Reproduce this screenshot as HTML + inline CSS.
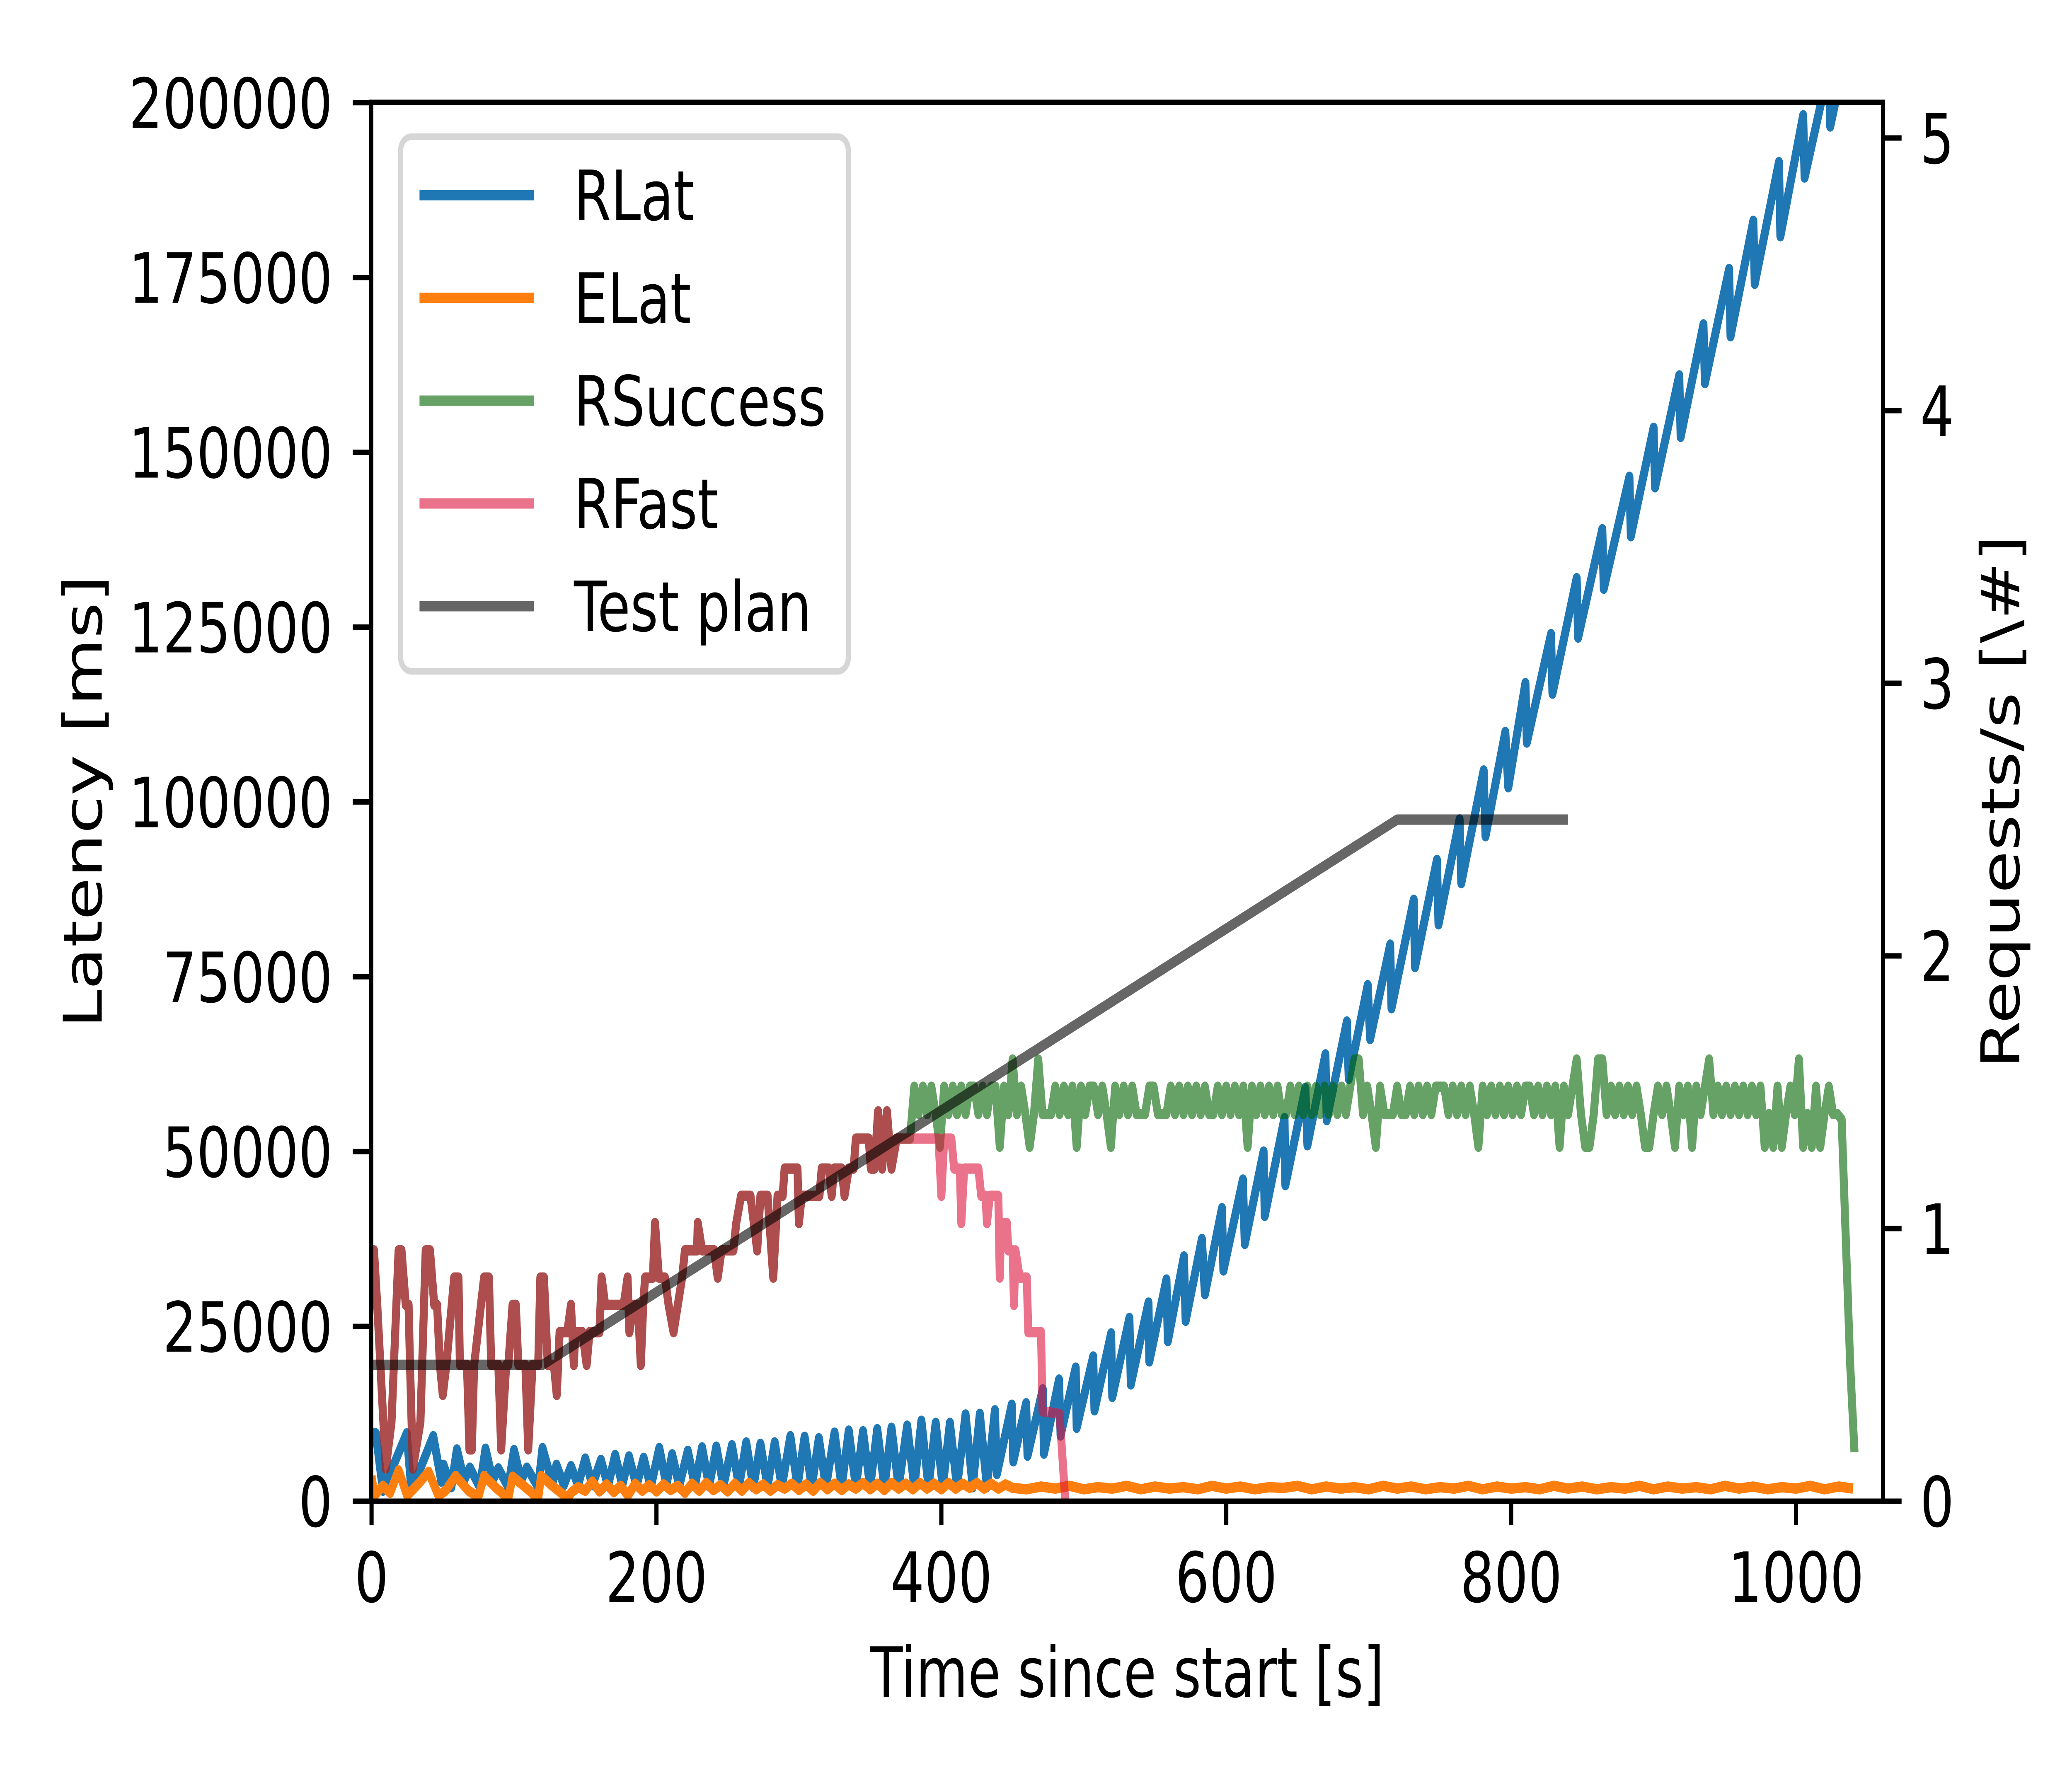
<!DOCTYPE html>
<html><head><meta charset="utf-8"><title>Latency chart</title>
<style>html,body{margin:0;padding:0;background:#fff;overflow:hidden;width:100vw;height:100vh}svg{display:block;width:100vw;height:100vh}text{font-family:"DejaVu Sans","Liberation Sans",sans-serif;fill:#000}</style>
</head><body>
<svg id="chart" xmlns="http://www.w3.org/2000/svg" viewBox="0 0 6480 4320" preserveAspectRatio="none">
<rect x="0" y="0" width="6480" height="4320" fill="#fff"/>
<defs><clipPath id="plotclip"><rect x="1161" y="247" width="4728" height="3376"/></clipPath></defs>
<g id="series" clip-path="url(#plotclip)"></g>
<g id="axes"></g>
<g id="legend"></g>
</svg>
<script>
// ---- data ----
const xTicks = [0, 200, 400, 600, 800, 1000];
const yLeftTicks = [0, 25000, 50000, 75000, 100000, 125000, 150000, 175000, 200000];
const yRightTicks = [0, 1, 2, 3, 4, 5];

// RLat (thousand ms)
const rlatT = [0,3,8,24.7,28,43.3,49,50.5,56,59.9,65,69,76,80,85,89,96,100,105,109,117,120,127,129.8,135,
140,145,150,155,161,166,171,176,180.7,186,191,196,202,207,211,216,222,227,232,237,242,247,253,258,263,268,273,278,283,288,294,299,304,309,314,319,325,330,335,340,345,350,355,360,365,370,376,381,386,391,396,401,406,411,417,422,427,432,
437.6,439,449.4,450.5,459.5,460.5,471.2,472,482.6,483.7,494.3,495,506.6,507.5,519.2,520,532,533,545.4,546,558,559,570.3,571.5,582.9,585,597,598,611.7,613,626.2,627,640.9,641.5,655.5,657,669.6,670.5,684.7,686,699.3,701,715.1,716,731.6,732.5,747.9,749,763.8,765,780.7,782,795.9,798,810,811,828,829,846,847,864,865,883,884,900,901,918,919,935,936,953,954,970,971,988,989,1005,1006,1023,1024,1040];
const rlatK = [9.7,9.7,1.5,9.7,1.5,9.3,2.8,5.2,2.0,7.4,3.0,4.8,2.0,7.5,3.0,4.7,2.0,7.3,3.0,4.8,2.0,7.6,2.5,5.2,2.3,
5.0,2.3,6.1,2.3,5.9,2.2,6.6,2.3,6.4,2.2,6.2,2.0,7.6,2.3,6.7,2.2,7.2,2.2,7.7,2.1,7.8,2.2,8.0,2.1,8.4,2.0,8.2,2.1,8.4,2.0,9.3,2.1,9.2,2.0,9.0,2.0,9.8,2.0,10.1,2.0,10.0,2.0,10.3,2.0,10.5,2.0,10.8,2.0,11.5,2.0,11.2,2.0,11.2,2.0,12.4,2.0,12.5,2.0,
13.0,3.9,13.8,5.7,14.0,6.5,16.0,6.8,17.4,9.4,19.1,10.5,20.7,13.0,24.0,14.9,26.2,16.7,28.4,20.0,31.7,22.9,35.0,25.8,37.5,29.6,41.9,33.0,46.0,36.8,50.0,40.8,54.8,45.2,59.1,50.9,63.9,54.5,68.6,60.4,73.8,66.1,79.6,70.5,86.0,76.4,91.7,82.5,97.5,88.4,104.5,95.1,110,102.1,117,108.5,124,115.5,132,123.5,139,130.5,146.5,138,153.5,145,161,152.2,168.3,159.9,176.2,166.6,183.1,174.1,191.5,180.9,198.2,189.3,205,196.6,212];

// ELat (thousand ms)
const elatEarlyT = [0,2,8,13,19,25,33,40,47,52,59,68,75,79,88,96,99,108,117,119,128,138];
const elatEarlyK = [3.6,0.8,2.2,1.2,4.4,0.8,2.5,4.2,0.8,1.5,3.6,1.5,0.6,3.6,1.8,0.4,3.5,2.0,0.4,3.6,2.0,0.4];
const elatMidStart = 140, elatMidStep = 5;
const elatMidK = [1.2,2.0,1.5,2.8,1.4,2.4,1.3,2.2,0.8,2.5,1.5,2.3,1.4,2.4,1.6,2.2,1.2,2.5,1.5,2.6,1.6,2.3,1.4,2.5,1.5,2.6,1.7,2.4,1.5,2.3,1.8,2.5,1.6,2.4,1.5,2.6,1.7,2.5,1.6,2.4,1.8,2.6,1.7,2.5,1.6,2.6,1.8,2.5,1.7,2.6,1.8,2.5,1.7,2.6,1.8,2.5,1.9,2.6,1.8,2.5,1.8,2.4,1.9];
const elatLateStart = 460, elatLateStep = 10;
const elatLateK = [1.7,2.1,1.8,2.2,1.7,2.0,1.8,2.2,1.7,2.1,1.8,2.0,1.7,2.2,1.8,2.1,1.7,2.0,1.9,2.2,1.7,2.1,1.8,2.0,1.7,2.2,1.8,2.1,1.7,2.0,1.8,2.2,1.7,2.1,1.8,2.0,1.7,2.2,1.8,2.1,1.7,2.0,1.8,2.2,1.7,2.1,1.8,2.0,1.7,2.2,1.8,2.1,1.7,2.0,1.8,2.2,1.7,2.1,1.8];

// RSuccess & RFast share the early part (requests/s)
const sharedT = [0,1.7,4,10,14,19,21,24,26,27,29,34.3,38,41,44,46,48,50,52.5,58,61,62,67,68.7,70.4,72,79,82.4,84,89,91,94.5,96,99,101.3,103,108,110,113,117,118.5,121,123.7,128,130,132,137.4,140,142,143,148,151,153,160,161.5,164,177,179.7,181,184,187,189,190.7,192,197.5,199,201.7,206,208.5,212,218,220,228.5,229,232,240.5,243,245.7,254,256,259.4,266,270.7,273,278,282,285,288.6,290,299,300,302,314.4,316,321,323,324.7,330,332,335,338.4,340,349,350.5,353,355.6,358.4,361.8,365,368.6,376];
const sharedV = [0.92,0.92,0.72,0.12,0.29,0.92,0.92,0.72,0.72,0.5,0.12,0.29,0.92,0.92,0.72,0.72,0.5,0.39,0.5,0.82,0.82,0.5,0.5,0.19,0.19,0.5,0.82,0.82,0.5,0.5,0.19,0.5,0.5,0.72,0.72,0.5,0.5,0.19,0.5,0.5,0.82,0.82,0.5,0.5,0.39,0.62,0.62,0.72,0.5,0.62,0.62,0.5,0.62,0.62,0.82,0.72,0.72,0.82,0.62,0.72,0.72,0.5,0.72,0.82,0.82,1.02,0.82,0.82,0.72,0.62,0.82,0.92,0.92,1.02,0.92,0.92,0.82,0.92,0.92,1.02,1.12,1.12,0.92,1.12,1.12,0.82,1.12,1.12,1.22,1.22,1.02,1.12,1.12,1.22,1.22,1.12,1.22,1.22,1.12,1.22,1.22,1.33,1.33,1.22,1.22,1.43,1.22,1.43,1.22,1.33,1.33];

const rsucTailStart = 378, rsucTailStep = 3;
const rsucTailV = [
1.33,1.52,1.42,1.52,1.42,1.52,1.42,1.30,1.52,1.42,
1.52,1.42,1.52,1.42,1.52,1.52,1.42,1.52,1.42,1.52,
1.52,1.30,1.52,1.42,1.62,1.42,1.52,1.42,1.30,1.42,
1.62,1.42,1.42,1.42,1.52,1.42,1.52,1.42,1.52,1.30,
1.52,1.42,1.52,1.52,1.42,1.52,1.42,1.30,1.52,1.42,
1.52,1.42,1.52,1.42,1.42,1.42,1.52,1.52,1.42,1.42,
1.42,1.52,1.42,1.52,1.42,1.52,1.42,1.52,1.42,1.52,
1.42,1.42,1.52,1.42,1.52,1.42,1.52,1.42,1.52,1.30,
1.52,1.42,1.52,1.42,1.52,1.42,1.52,1.42,1.42,1.52,
1.42,1.52,1.42,1.52,1.42,1.52,1.42,1.52,1.42,1.52,
1.42,1.52,1.42,1.52,1.62,1.62,1.42,1.52,1.42,1.30,
1.52,1.42,1.42,1.42,1.52,1.42,1.42,1.52,1.42,1.52,
1.42,1.52,1.42,1.52,1.52,1.52,1.42,1.52,1.42,1.52,
1.42,1.52,1.42,1.30,1.52,1.42,1.52,1.42,1.52,1.42,
1.52,1.42,1.52,1.42,1.52,1.52,1.42,1.52,1.42,1.52,
1.42,1.52,1.30,1.52,1.42,1.52,1.62,1.42,1.30,1.30,
1.42,1.62,1.62,1.42,1.52,1.42,1.52,1.42,1.52,1.42,
1.52,1.42,1.30,1.30,1.42,1.52,1.42,1.52,1.42,1.30,
1.52,1.42,1.52,1.30,1.52,1.42,1.52,1.62,1.42,1.52,
1.42,1.52,1.42,1.52,1.42,1.52,1.42,1.52,1.42,1.52,
1.30,1.42,1.30,1.52,1.30,1.42,1.52,1.42,1.62,1.30,
1.42,1.30,1.52,1.30,1.42,1.52,1.42,1.42,
1.40,0.95,0.50,0.18];

const rfastTailT = [398,400,402,407,409,413,414,416,426,428,431,432,434,440,441,442,446,447,450,451,452,455,460,461,470,471,483,487];
const rfastTailV = [1.33,1.12,1.33,1.33,1.22,1.22,1.02,1.22,1.22,1.12,1.12,1.02,1.12,1.12,0.82,1.02,1.02,0.92,0.92,0.72,0.92,0.82,0.82,0.62,0.62,0.33,0.32,0.0];

const planT = [0, 120, 720, 840];
const planV = [0.5, 0.5, 2.5, 2.5];

// ---- axis functions ----
const X0 = 1162, XPX = 4.455;
const YB = 3623, YLPX = 0.016876, YRPX = 658;
const xS = t => X0 + t * XPX;
const yL = ms => YB - ms * YLPX;
const yR = r => YB - r * YRPX;
const NS = 'http://www.w3.org/2000/svg';

function mk(tag, attrs, parent) {
  const e = document.createElementNS(NS, tag);
  for (const k in attrs) e.setAttribute(k, attrs[k]);
  parent.appendChild(e);
  return e;
}
function pathFrom(ts, vs, yf) {
  let d = '';
  for (let i = 0; i < ts.length; i++) d += (i ? 'L' : 'M') + xS(ts[i]).toFixed(1) + ',' + yf(vs[i]).toFixed(1);
  return d;
}
const series = document.getElementById('series');
const axes = document.getElementById('axes');
const legend = document.getElementById('legend');

const rlatMs = rlatK.map(k => k * 1000);
let p = mk('path', {d: pathFrom(rlatT, rlatMs, yL), fill: 'none', stroke: '#1f77b4', 'stroke-width': 25, 'stroke-linejoin': 'round'}, series);



const elatT = elatEarlyT.concat(elatMidK.map((v, i) => elatMidStart + i * elatMidStep), elatLateK.map((v, i) => elatLateStart + i * elatLateStep));
const elatMs = elatEarlyK.concat(elatMidK, elatLateK).map(k => k * 1000);
p = mk('path', {d: pathFrom(elatT, elatMs, yL), fill: 'none', stroke: '#ff7f0e', 'stroke-width': 25, 'stroke-linejoin': 'round'}, series);



const rsucT = sharedT.concat(rsucTailV.map((v, i) => rsucTailStart + i * rsucTailStep));
const rsucV = sharedV.concat(rsucTailV);
p = mk('path', {d: pathFrom(rsucT, rsucV, yR), fill: 'none', stroke: '#006400', 'stroke-opacity': 0.6, 'stroke-width': 25, 'stroke-linejoin': 'round'}, series);



const rfastT = sharedT.concat(rfastTailT);
const rfastV = sharedV.concat(rfastTailV);
p = mk('path', {d: pathFrom(rfastT, rfastV, yR), fill: 'none', stroke: '#dc143c', 'stroke-opacity': 0.6, 'stroke-width': 25, 'stroke-linejoin': 'round'}, series);



p = mk('path', {d: pathFrom(planT, planV, yR), fill: 'none', stroke: '#000', 'stroke-opacity': 0.6, 'stroke-width': 25, 'stroke-linejoin': 'round'}, series);



let r = mk('rect', {x: 1161, y: 247, width: 4728, height: 3376, fill: 'none', stroke: '#000', 'stroke-width': 13}, axes);



xTicks.forEach(t => {
  const l = mk('line', {x1: xS(t), x2: xS(t), y1: YB, y2: YB + 58, stroke: '#000', 'stroke-width': 13}, axes);
  
  
  const tx = mk('text', {x: xS(t), y: 3866, 'font-size': 167, 'text-anchor': 'middle'}, axes);
  tx.textContent = String(t);
  
  
});
yLeftTicks.forEach(v => {
  const y = yL(v);
  const l = mk('line', {x1: 1161 - 58, x2: 1161, y1: y, y2: y, stroke: '#000', 'stroke-width': 13}, axes);
  
  
  const tx = mk('text', {x: 1040, y: y + 61, 'font-size': 167, 'text-anchor': 'end'}, axes);
  tx.textContent = String(v);
  
  
});
yRightTicks.forEach(v => {
  const y = yR(v);
  const l = mk('line', {x1: 5889, x2: 5889 + 58, y1: y, y2: y, stroke: '#000', 'stroke-width': 13}, axes);
  
  
  const tx = mk('text', {x: 6005, y: y + 61, 'font-size': 167, 'text-anchor': 'start'}, axes);
  tx.textContent = String(v);
  
  
});
let t = mk('text', {x: 3525, y: 4095, 'font-size': 167, 'text-anchor': 'middle'}, axes);
t.textContent = 'Time since start [s]';


t = mk('text', {x: 0, y: 0, 'font-size': 167, 'text-anchor': 'middle', transform: 'translate(318,1935) rotate(-90)'}, axes);
t.textContent = 'Latency [ms]';


t = mk('text', {x: 0, y: 0, 'font-size': 167, 'text-anchor': 'middle', transform: 'translate(6315,1935) rotate(-90)'}, axes);
t.textContent = 'Requests/s [\\#]';



r = mk('rect', {x: 1253, y: 330, width: 1400, height: 1290, rx: 33, fill: '#fff', 'fill-opacity': 0.8, stroke: '#d6d6d6', 'stroke-width': 16}, legend);


const legNames = ['RLat', 'ELat', 'RSuccess', 'RFast', 'Test plan'];
const legColors = ['#1f77b4', '#ff7f0e', '#006400', '#dc143c', '#000'];
const legOpac = [1, 1, 0.6, 0.6, 0.6];
legNames.forEach((n, i) => {
  const y = 471 + i * 248;
  const g = mk('g', {}, legend);
  
  
  mk('line', {x1: 1312, x2: 1670, y1: y, y2: y, stroke: legColors[i], 'stroke-opacity': legOpac[i], 'stroke-width': 25}, g);
  const tx = mk('text', {x: 1795, y: y + 60, 'font-size': 167}, g);
  tx.textContent = n;
});
</script>
</body></html>
